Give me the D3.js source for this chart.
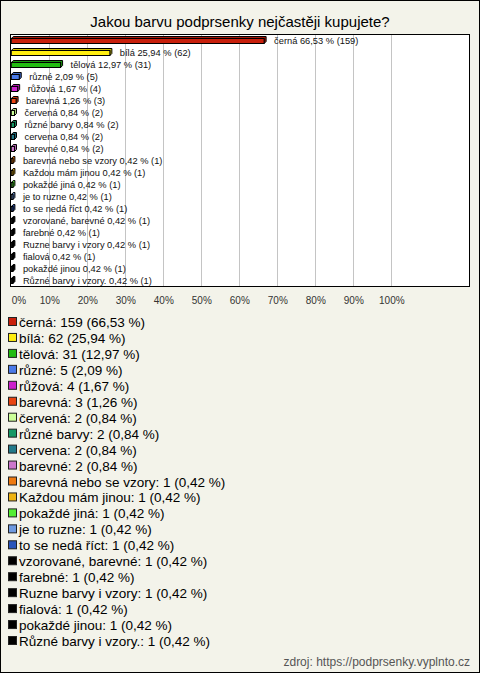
<!DOCTYPE html>
<html><head><meta charset="utf-8">
<script src="https://cdn.jsdelivr.net/npm/d3@7/dist/d3.min.js"></script>
<style>html,body{margin:0;padding:0;background:#fff;}svg{display:block;}</style>
</head><body>
<script>
const title = "Jakou barvu podprsenky nejčastěji kupujete?";
const categories = ["černá","bílá","tělová","různé","růžová","barevná","červená","různé barvy","cervena","barevné","barevná nebo se vzory","Každou mám jinou","pokaždé jiná","je to ruzne","to se nedá říct","vzorované, barevné","farebné","Ruzne barvy i vzory","fialová","pokaždé jinou","Různé barvy i vzory."];
const counts = [159,62,31,5,4,3,2,2,2,2,1,1,1,1,1,1,1,1,1,1,1];
const percents = [66.53,25.94,12.97,2.09,1.67,1.26,0.84,0.84,0.84,0.84,0.42,0.42,0.42,0.42,0.42,0.42,0.42,0.42,0.42,0.42,0.42];
const colors = ["#c8200c","#ffee11","#22bb11","#4a7ae8","#cc22cc","#e84412","#ccff99","#169966","#227a8a","#cc77cc","#ee7a11","#eeb311","#55ee33","#6f9ae0","#2a55bb","#000","#000","#000","#000","#000","#000"];
const ticks = [0,10,20,30,40,50,60,70,80,90,100];
const source = "zdroj: https://podprsenky.vyplnto.cz";

const W = 480, H = 673;
const svg = d3.select("body").append("svg").attr("width", W).attr("height", H);
svg.append("rect").attr("x",0.5).attr("y",0.5).attr("width",W-1).attr("height",H-1)
  .attr("fill","#f3f3ea").attr("stroke","#000");

svg.append("text").attr("x",240).attr("y",27).attr("text-anchor","middle")
  .attr("font-family","Liberation Sans, Arial, sans-serif").attr("font-size",15).attr("fill","#000").text(title);

const plot = {x0: 11, x1: 470, y0: 35, y1: 287};
const x = d3.scaleLinear().domain([0,100]).range([plot.x0+0.3, plot.x0+0.3+380]);
const y = d3.scaleBand().domain(categories).range([plot.y0-0.5, plot.y1-1.5]);

svg.append("rect").attr("x",plot.x0-0.5).attr("y",plot.y0-0.5).attr("width",plot.x1-plot.x0).attr("height",plot.y1-plot.y0)
  .attr("fill","#fff").attr("stroke","#000");

const g = svg.append("g");
g.selectAll("line.grid").data(ticks.slice(1)).join("line").attr("class","grid")
  .attr("x1",d=>Math.round(x(d))+0.5).attr("x2",d=>Math.round(x(d))+0.5)
  .attr("y1",plot.y0).attr("y2",plot.y1-1).attr("stroke","#c4c4c4");

const fmt = v => v.toFixed(2).replace(".",",");
const dep = 2;
const bars = g.selectAll("g.bar").data(categories.map((c,i)=>({c,i,p:percents[i],n:counts[i],col:colors[i]}))).join("g");
bars.each(function(d){
  const s = d3.select(this);
  const cy = Math.round(y(d.c) + y.bandwidth()/2);
  const bx0 = x(0), bx1 = Math.max(x(d.p), x(0)+1.5);
  const top = cy - 1.5, bot = cy + 3.5;
  const c = d3.color(d.col);
  s.append("path").attr("d", `M${bx0},${top} L${bx0+dep},${top-dep} L${bx1+dep},${top-dep} L${bx1+dep},${bot-dep} L${bx1},${bot} L${bx1},${top} Z`)
    .attr("fill", c.darker(0.6)).attr("stroke","#000").attr("stroke-width",1);
  s.append("rect").attr("x",bx0).attr("y",top).attr("width",bx1-bx0).attr("height",bot-top)
    .attr("fill", d.col).attr("stroke","#000").attr("stroke-width",1);
  s.append("text").attr("x", x(d.p)+10).attr("y", cy+3.5)
    .attr("font-family","Liberation Sans, Arial, sans-serif").attr("font-size",9.3).attr("fill","#111")
    .text(`${d.c} ${fmt(d.p)} % (${d.n})`);
});

const axis = d3.axisBottom(x).tickValues(ticks).tickFormat(d=>d+"%").tickSize(0).tickPadding(0);
const ag = svg.append("g").attr("transform",`translate(0,${plot.y1+17})`).call(axis);
ag.select(".domain").remove();
ag.selectAll("text").attr("font-family","Liberation Sans, Arial, sans-serif").attr("font-size",10).attr("fill","#333").attr("dy","0");
ag.selectAll(".tick").filter(d=>d===0).select("text").attr("text-anchor","start");

const leg = svg.append("g");
categories.forEach((c,i)=>{
  const cy = 322 + i*15.95;
  leg.append("rect").attr("x",8.5).attr("y",cy-4.5).attr("width",8).attr("height",8)
    .attr("fill",colors[i]).attr("stroke","#222");
  leg.append("text").attr("x",19).attr("y",cy+5)
    .attr("font-family","Liberation Sans, Arial, sans-serif").attr("font-size",13.5).attr("fill","#000")
    .text(`${c}: ${counts[i]} (${fmt(percents[i])} %)`);
});

svg.append("text").attr("x",470).attr("y",666).attr("text-anchor","end")
  .attr("font-family","Liberation Sans, Arial, sans-serif").attr("font-size",12).attr("fill","#555").text(source);
</script>
</body></html>
